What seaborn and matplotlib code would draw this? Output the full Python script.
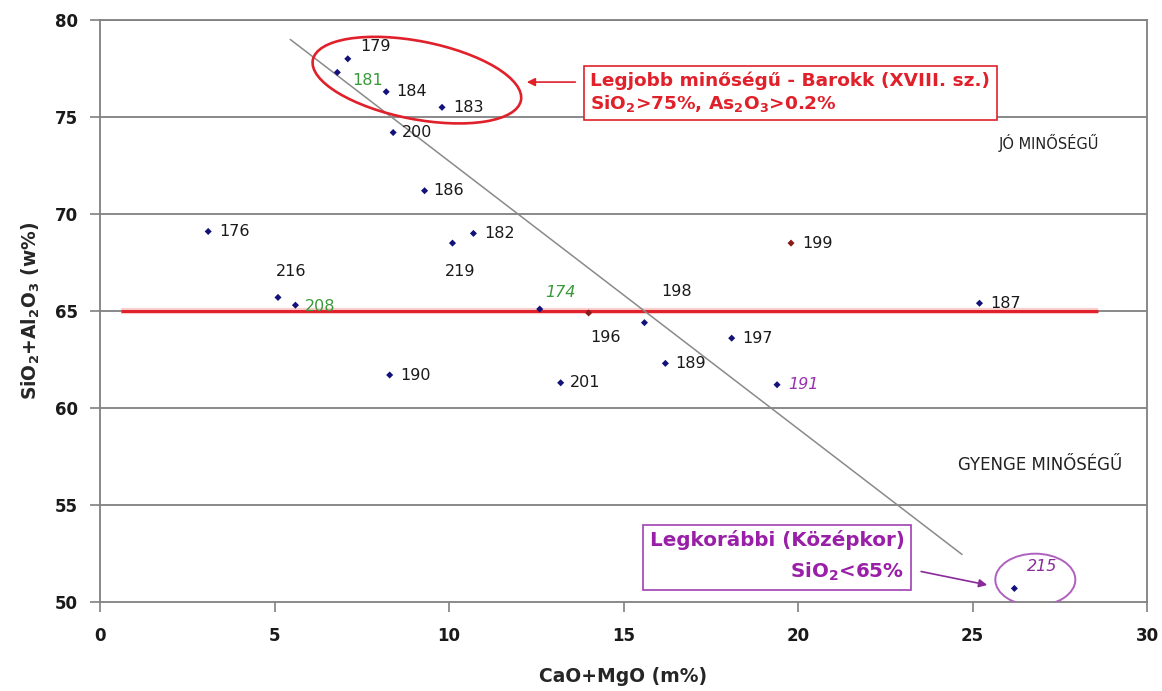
import matplotlib
matplotlib.use("Agg")
import matplotlib.pyplot as plt
import seaborn as sns
import pandas as pd
from matplotlib.patches import Ellipse
from matplotlib.transforms import ScaledTranslation

# ---------------- data ----------------
sample_ids = ["179", "181", "184", "183", "200", "186", "176", "182", "219", "199",
              "216", "208", "174", "196", "198", "197", "189", "190", "201", "191",
              "187", "215"]
cao_mgo = [7.1, 6.8, 8.2, 9.8, 8.4, 9.3, 3.1, 10.7, 10.1, 19.8,
           5.1, 5.6, 12.6, 14.0, 15.6, 18.1, 16.2, 8.3, 13.2, 19.4,
           25.2, 26.2]
sio2_al2o3 = [78.0, 77.3, 76.3, 75.5, 74.2, 71.2, 69.1, 69.0, 68.5, 68.5,
              65.7, 65.3, 65.1, 64.9, 64.4, 63.6, 62.3, 61.7, 61.3, 61.2,
              65.4, 50.7]
point_group = ["blue"] * len(sample_ids)
for _i, _s in enumerate(sample_ids):
    if _s in ("196", "199"):
        point_group[_i] = "red"

x_ticks = [0, 5, 10, 15, 20, 25, 30]
y_ticks = [50, 55, 60, 65, 70, 75, 80]
threshold_level = 65
threshold_span = [0.6, 28.6]
trend_x = [5.45, 24.7]
trend_y = [79.0, 52.45]

# ---------------- styles / positions (not data) ----------------
label_colors = {"181": "#3a9a3a", "208": "#3a9a3a", "174": "#3a9a3a",
                "191": "#9a2fb0", "215": "#8a2a9a"}
label_italic = {"174", "191", "215"}
# offsets in pixels (dx, dy) and horizontal alignment
label_offsets = {
    "179": (12, 12, "left"), "181": (15, -8, "left"), "184": (10, 0, "left"),
    "183": (11, 0, "left"), "200": (9, 0, "left"), "186": (9, 0, "left"),
    "176": (11, 0, "left"), "182": (11, 0, "left"), "219": (8, -28, "center"),
    "199": (11, 0, "left"), "216": (13, 26, "center"), "208": (9, -1, "left"),
    "174": (5, 17, "left"), "196": (17, -25, "center"), "198": (17, 31, "left"),
    "197": (11, 0, "left"), "189": (10, 0, "left"), "190": (11, 0, "left"),
    "201": (9, 0, "left"), "191": (11, 0, "left"), "187": (11, 0, "left"),
    "215": (13, 22, "left"),
}

df = pd.DataFrame({"id": sample_ids, "x": cao_mgo, "y": sio2_al2o3, "group": point_group})

sns.set_style("white")
plt.rcParams["font.family"] = ["DejaVu Sans"]
plt.rcParams["mathtext.fontset"] = "dejavusans"

fig = plt.figure(figsize=(11.62, 6.91), dpi=100)
ax = fig.add_axes([100 / 1162, 1 - 602 / 691, 1047 / 1162, 582 / 691])

grid_c = "#808080"
for yv in y_ticks[1:]:
    ax.axhline(yv, color=grid_c, lw=1.3, zorder=1)

# threshold line (red) with faint halo
ax.plot(threshold_span, [threshold_level] * 2, color="#f4a0a0", lw=4.5, alpha=0.5,
        solid_capstyle="butt", zorder=2)
ax.plot(threshold_span, [threshold_level] * 2, color="#e0202a", lw=2.2,
        solid_capstyle="butt", zorder=3)

# trend line
ax.plot(trend_x, trend_y, color="#8a8a8a", lw=1.1, zorder=3)

sns.scatterplot(data=df, x="x", y="y", hue="group",
                palette={"blue": "#12127a", "red": "#8b1a1a"},
                marker="D", s=13, linewidth=0, legend=False, ax=ax, zorder=5)

for sid, xv, yv in zip(sample_ids, cao_mgo, sio2_al2o3):
    dx, dy, ha = label_offsets[sid]
    ax.annotate(sid, (xv, yv), xytext=(dx, dy), textcoords="offset pixels",
                ha=ha, va="center", fontsize=11.5,
                color=label_colors.get(sid, "#1a1a1a"),
                style="italic" if sid in label_italic else "normal", zorder=6)

ax.set_xlim(0, 30)
ax.set_ylim(50, 80)
ax.set_xticks(x_ticks)
ax.set_yticks(y_ticks)
ax.tick_params(axis="both", direction="out", length=7, width=1.2, color=grid_c,
               labelsize=12, bottom=True, left=True)
ax.tick_params(axis="x", pad=11)
ax.tick_params(axis="y", pad=9)
for lab in ax.get_xticklabels() + ax.get_yticklabels():
    lab.set_fontweight("bold")
    lab.set_color("#1a1a1a")
for sp in ax.spines.values():
    sp.set_color(grid_c)
    sp.set_linewidth(1.3)

ax.set_xlabel("CaO+MgO (m%)", fontsize=13.5, fontweight="bold", labelpad=16)
ax.set_ylabel(r"SiO$_\mathbf{2}$+Al$_\mathbf{2}$O$_\mathbf{3}$ (w%)", fontsize=13.5,
              fontweight="bold", labelpad=9)

# zone texts
ax.text(27.2, 73.66, "JÓ MINŐSÉGŰ", fontsize=10.5, ha="center", va="center", color="#222222")
ax.text(26.93, 57.06, "GYENGE MINŐSÉGŰ", fontsize=12, ha="center", va="center", color="#222222")

# red annotation box
ax.text(14.05, 76.25,
        "Legjobb minőségű - Barokk (XVIII. sz.)\n"
        r"SiO$_\mathbf{2}$>75%, As$_\mathbf{2}$O$_\mathbf{3}$>0.2%",
        fontsize=13.3, fontweight="bold", color="#e0202a", ha="left", va="center",
        linespacing=1.15,
        bbox=dict(boxstyle="square,pad=0.35", fc="white", ec="#e0202a", lw=1.2), zorder=7)

# purple annotation box
ax.text(23.05, 52.35,
        "Legkorábbi (Középkor)\n" r"SiO$_\mathbf{2}$<65%",
        fontsize=14.3, fontweight="bold", color="#9a1fa8", ha="right", va="center",
        multialignment="right", linespacing=1.6,
        bbox=dict(boxstyle="square,pad=0.35", fc="white", ec="#a040b0", lw=1.2), zorder=7)

# ellipses drawn in inches around data-centred points
red_center = (9.08, 76.9)
tr = fig.dpi_scale_trans + ScaledTranslation(red_center[0], red_center[1], ax.transData)
ax.add_patch(Ellipse((0, 0), 2.12, 0.78, angle=-11, transform=tr, fill=False,
                     ec="#e0202a", lw=1.9, zorder=6))
pur_center = (26.8, 51.15)
tr2 = fig.dpi_scale_trans + ScaledTranslation(pur_center[0], pur_center[1], ax.transData)
ax.add_patch(Ellipse((0, 0), 0.8, 0.52, angle=0, transform=tr2, fill=False,
                     ec="#b060c0", lw=1.4, zorder=6))

# arrows
ax.annotate("", xy=(12.15, 76.8), xytext=(13.7, 76.8),
            arrowprops=dict(arrowstyle="-|>", color="#e0202a", lw=1.2, mutation_scale=12))
ax.annotate("", xy=(25.5, 50.85), xytext=(23.45, 51.6),
            arrowprops=dict(arrowstyle="-|>", color="#8a2a9a", lw=1.2, mutation_scale=12))

fig.savefig("out.png", dpi=100)
